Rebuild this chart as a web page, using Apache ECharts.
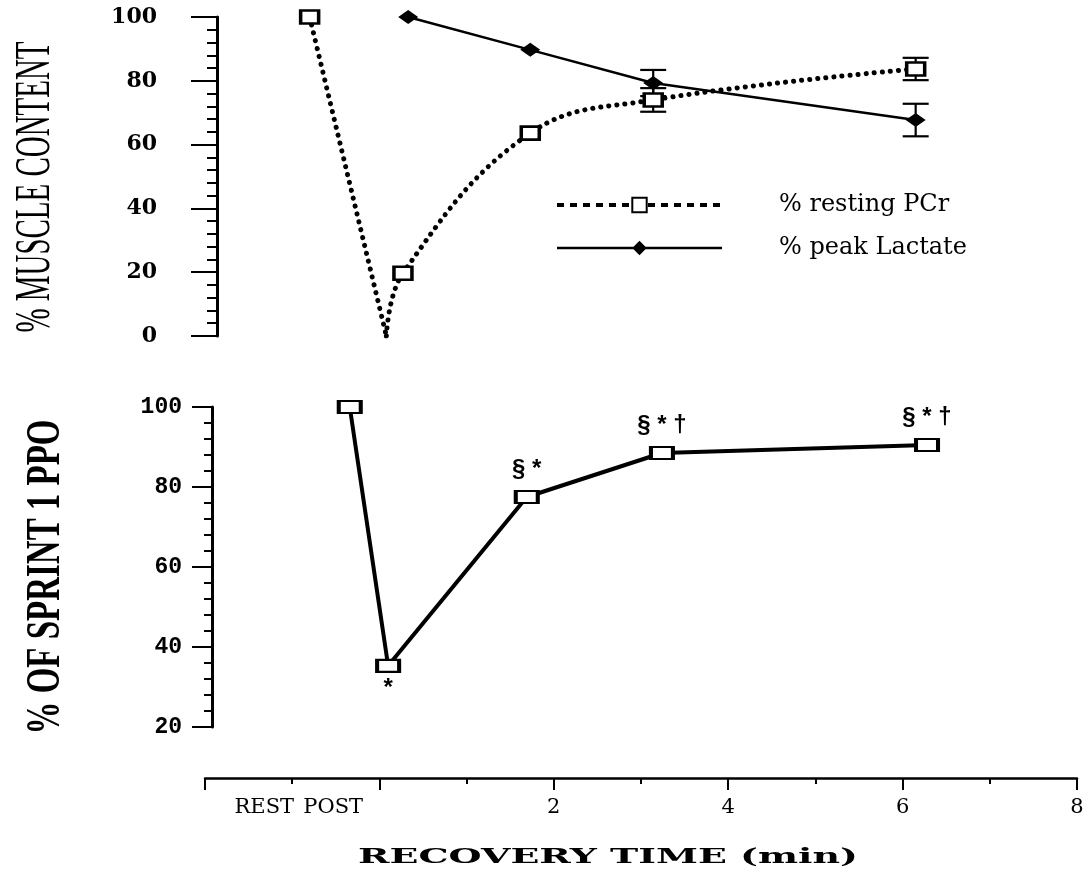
<!DOCTYPE html>
<html>
<head>
<meta charset="utf-8">
<script src="https://cdn.jsdelivr.net/npm/echarts@6/dist/echarts.min.js"></script>
<style>
html,body{margin:0;padding:0;background:#fff;}
#chart{width:1089px;height:870px;}
</style>
</head>
<body>
<div id="chart"></div>
<script>
// ---------- data ----------
const xTickLabels = ['REST', 'POST', '2', '4', '6', '8'];
const xTickLabelValues = [-1.32, -0.53, 2, 4, 6, 8];

// top panel: % resting PCr
const pcrTime   = [-0.80, 0.08, 0.27, 1.73, 3.14, 6.15];
const pcrValues = [100, 0, 19.7, 63.6, 74.0, 83.7];
const pcrErr    = [0, 0, 0, 0, 3.7, 3.5];

// top panel: % peak Lactate
const lacTime   = [0.33, 1.73, 3.14, 6.15];
const lacValues = [100, 89.7, 79.3, 67.7];
const lacErr    = [0, 0, 4.1, 5.1];

// bottom panel: % of sprint 1 PPO
const ppoTime   = [-0.34, 0.10, 1.69, 3.24, 6.28];
const ppoValues = [100, 35.3, 77.5, 88.5, 90.5];
const ppoMarks  = ['', '*', '§ *', '§ * †', '§ * †'];

// ---------- helpers ----------
const pair = (xs, ys) => xs.map((x, i) => [x, ys[i]]);
const pcrAll = pair(pcrTime, pcrValues);
const pcrDrop = pcrAll.slice(0, 2).map((v, i) => i === 1 ? {value: v, symbol: 'none'} : {value: v});
const pcrRecovery = pcrAll.slice(1).map((v, i) => i === 0 ? {value: v, symbol: 'none'} : {value: v});
const lacData = pair(lacTime, lacValues);
const ppoData = pair(ppoTime, ppoValues).map((v, i) => ({
  value: v,
  label: {position: i === 1 ? 'bottom' : 'top', distance: i === 1 ? 3 : 9}
}));
const errData = [];
pcrTime.forEach((t, i) => { if (pcrErr[i] > 0) errData.push([t, pcrValues[i], pcrErr[i]]); });
lacTime.forEach((t, i) => { if (lacErr[i] > 0) errData.push([t, lacValues[i], lacErr[i]]); });

const ctx = document.createElement('canvas').getContext('2d');
function fitScale(text, font, target) {
  ctx.font = font;
  return target / ctx.measureText(text).width;
}

const topTitle = '% MUSCLE CONTENT';
const topFont = '50px "Liberation Serif"';
const botTitle = '% OF SPRINT 1 PPO';
const botFont = 'bold 48px "Liberation Serif"';
const xTitle = 'RECOVERY TIME (min)';
const xFont = 'bold 21px "DejaVu Serif"';

const chart = echarts.init(document.getElementById('chart'), null, {renderer: 'canvas'});

const black = '#000';
const pcrLine = {color: black, width: 5, type: [0.1, 8], cap: 'round'};
const option = {
  animation: false,
  backgroundColor: '#fff',
  grid: [
    {left: 205, right: 12, top: 17, height: 319},
    {left: 205, right: 12, top: 407, height: 320}
  ],
  xAxis: [
    {gridIndex: 0, type: 'value', min: -2, max: 8, show: false},
    {
      gridIndex: 1, type: 'value', min: -2, max: 8, interval: 2, offset: 51,
      axisLine: {show: true, onZero: false, lineStyle: {color: black, width: 2.5}},
      axisTick: {show: true, length: 12, lineStyle: {color: black, width: 2}},
      minorTick: {show: true, splitNumber: 2, length: 6, lineStyle: {color: black, width: 2}},
      splitLine: {show: false},
      axisLabel: {
        customValues: xTickLabelValues,
        margin: 19,
        color: black,
        fontFamily: 'DejaVu Serif',
        fontSize: 21,
        formatter: function (v) {
          const i = xTickLabelValues.findIndex(t => Math.abs(t - v) < 1e-6);
          return i >= 0 ? xTickLabels[i] : '';
        }
      }
    }
  ],
  yAxis: [
    {
      gridIndex: 0, type: 'value', min: 0, max: 100, interval: 20, offset: -12,
      axisLine: {show: true, onZero: false, lineStyle: {color: black, width: 3}},
      axisTick: {show: true, length: 26, lineStyle: {color: black, width: 2}},
      minorTick: {show: true, splitNumber: 5, length: 10, lineStyle: {color: black, width: 2}},
      splitLine: {show: false},
      axisLabel: {margin: 60, color: black, fontFamily: 'DejaVu Serif', fontWeight: 'bold', fontSize: 22}
    },
    {
      gridIndex: 1, type: 'value', min: 20, max: 100, interval: 20, offset: -7,
      axisLine: {show: true, onZero: false, lineStyle: {color: black, width: 3}},
      axisTick: {show: true, length: 20, lineStyle: {color: black, width: 2}},
      minorTick: {show: true, splitNumber: 5, length: 8, lineStyle: {color: black, width: 2}},
      splitLine: {show: false},
      axisLabel: {margin: 30, color: black, fontFamily: 'Liberation Mono', fontWeight: 'bold', fontSize: 23}
    }
  ],
  legend: {
    left: 550, top: 188, orient: 'vertical',
    itemWidth: 165, itemHeight: 18, itemGap: 19,
    selectedMode: false,
    data: [
      {name: '% resting PCr', lineStyle: {color: black, width: 4, type: [7, 6], cap: 'butt'}},
      {name: '% peak Lactate', lineStyle: {color: black, width: 2.5, type: 'solid'}}
    ],
    textStyle: {color: black, fontFamily: 'DejaVu Serif', fontSize: 24, padding: [0, 0, 0, 52]}
  },
  graphic: [
    {type: 'text', x: 36, y: 187, rotation: Math.PI / 2,
     scaleX: fitScale(topTitle, topFont, 291), scaleY: 1,
     style: {text: topTitle, font: topFont, fill: black, align: 'center', verticalAlign: 'middle', textAlign: 'center', textVerticalAlign: 'middle'}},
    {type: 'text', x: 47, y: 577, rotation: Math.PI / 2,
     scaleX: fitScale(botTitle, botFont, 315), scaleY: 1,
     style: {text: botTitle, font: botFont, fill: black, align: 'center', verticalAlign: 'middle', textAlign: 'center', textVerticalAlign: 'middle'}},
    {type: 'text', x: 608, y: 858,
     scaleX: fitScale(xTitle, xFont, 500), scaleY: 1,
     style: {text: xTitle, font: xFont, fill: black, align: 'center', verticalAlign: 'middle', textAlign: 'center', textVerticalAlign: 'middle'}}
  ],
  series: [
    {
      type: 'custom', name: 'err', xAxisIndex: 0, yAxisIndex: 0, z: 1,
      data: errData,
      renderItem: function (params, api) {
        const x = api.value(0), y = api.value(1), e = api.value(2);
        const p1 = api.coord([x, y + e]);
        const p2 = api.coord([x, y - e]);
        const hw = 13;
        const st = {stroke: black, lineWidth: 2.2};
        return {
          type: 'group',
          children: [
            {type: 'line', shape: {x1: p1[0], y1: p1[1], x2: p2[0], y2: p2[1]}, style: st},
            {type: 'line', shape: {x1: p1[0] - hw, y1: p1[1], x2: p1[0] + hw, y2: p1[1]}, style: st},
            {type: 'line', shape: {x1: p2[0] - hw, y1: p2[1], x2: p2[0] + hw, y2: p2[1]}, style: st}
          ]
        };
      }
    },
    {
      type: 'line', name: '% peak Lactate', xAxisIndex: 0, yAxisIndex: 0, z: 3,
      data: lacData,
      symbol: 'diamond', symbolSize: [20, 14],
      itemStyle: {color: black},
      lineStyle: {color: black, width: 2.5}
    },
    {
      type: 'line', name: '% resting PCr', xAxisIndex: 0, yAxisIndex: 0, z: 4,
      data: pcrDrop,
      symbol: 'rect', symbolSize: [18, 13],
      itemStyle: {color: '#fff', borderColor: black, borderWidth: 3},
      lineStyle: pcrLine
    },
    {
      type: 'line', name: '% resting PCr', xAxisIndex: 0, yAxisIndex: 0, z: 4,
      data: pcrRecovery, smooth: 0.4,
      symbol: 'rect', symbolSize: [18, 13],
      itemStyle: {color: '#fff', borderColor: black, borderWidth: 3},
      lineStyle: pcrLine
    },
    {
      type: 'line', name: 'PPO', xAxisIndex: 1, yAxisIndex: 1, z: 4,
      data: ppoData,
      symbol: 'rect', symbolSize: [22, 12],
      itemStyle: {color: '#fff', borderColor: black, borderWidth: 3},
      lineStyle: {color: black, width: 4},
      label: {
        show: true,
        color: black,
        fontFamily: 'Liberation Sans',
        fontWeight: 'bold',
        fontSize: 24,
        formatter: function (p) { return ppoMarks[p.dataIndex]; }
      }
    }
  ]
};
chart.setOption(option);
</script>
</body>
</html>
